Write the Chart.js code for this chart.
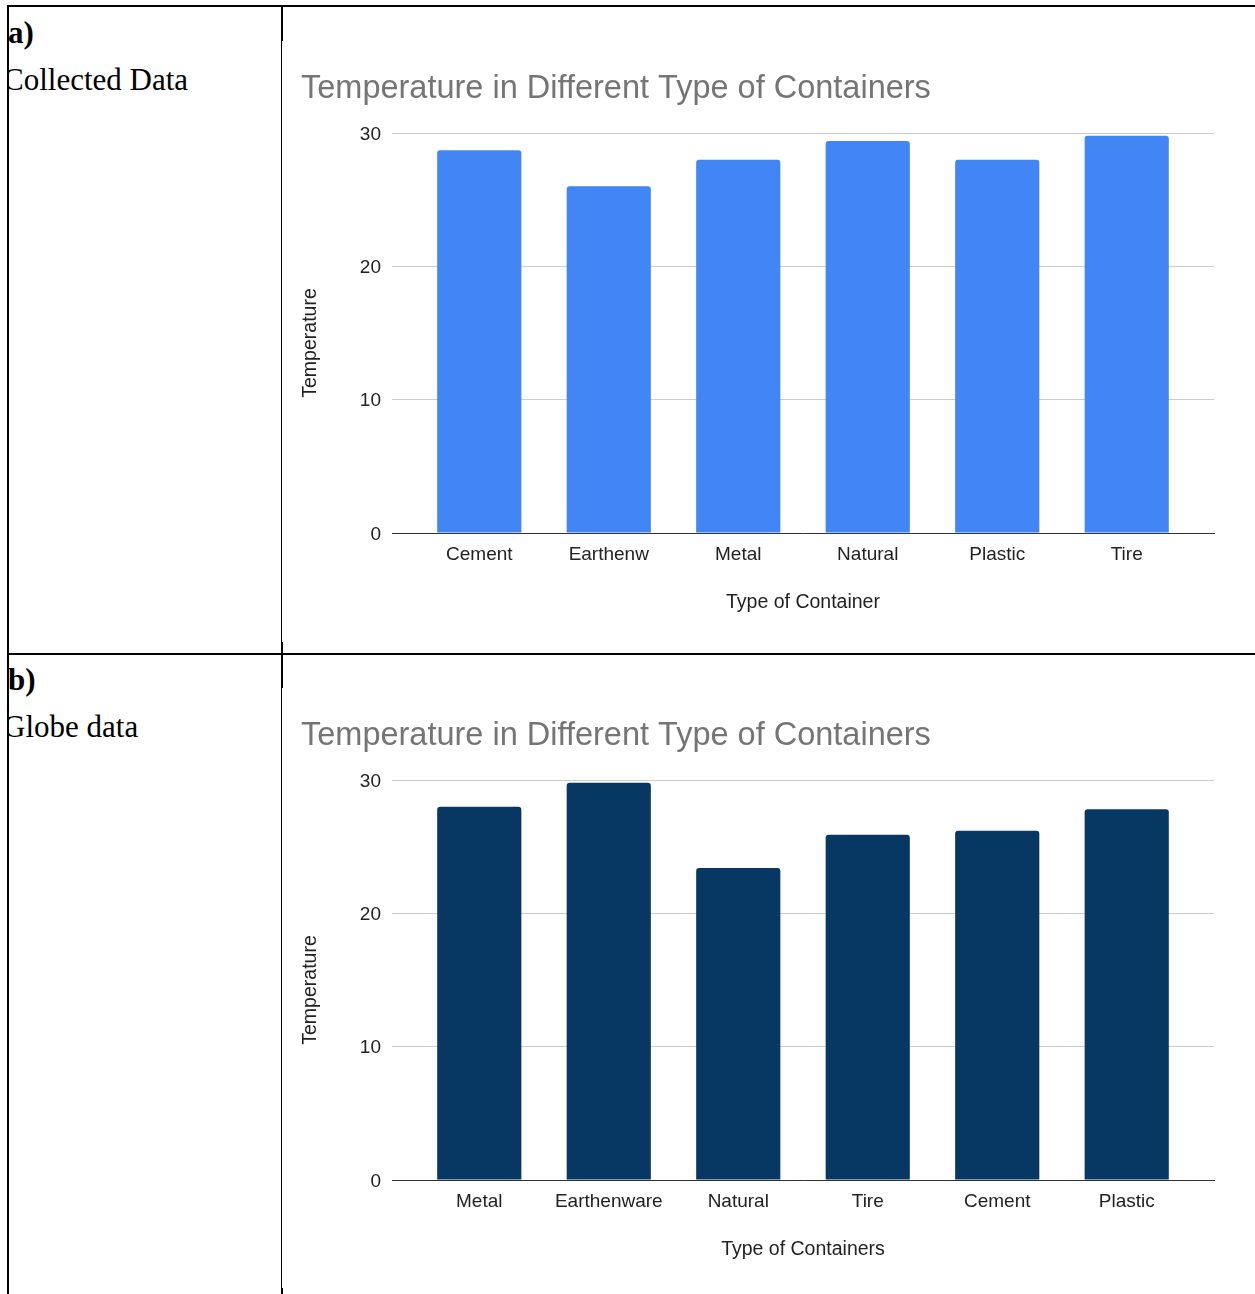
<!DOCTYPE html>
<html>
<head>
<meta charset="utf-8">
<script src="https://cdn.jsdelivr.net/npm/chart.js@4.4.1/dist/chart.umd.min.js"></script>
<style>
  html, body { margin: 0; padding: 0; background: #fff; }
  body { width: 1255px; height: 1294px; position: relative; overflow: hidden; }
  .ln { position: absolute; background: #000; }
  .cell { position: absolute; left: 9px; width: 272px; overflow: hidden; font-family: "Liberation Serif", "Times New Roman", serif; color: #000; white-space: nowrap; }
  .cell div { position: absolute; line-height: 1; }
  .tag { font-weight: bold; font-size: 31px; }
  .cap { font-size: 31px; }
  .wrap { position: absolute; left: 283px; width: 972px; height: 600px; }
</style>
</head>
<body>
<!-- table rules -->
<div class="ln" style="left:7px;top:5px;width:1248px;height:2px"></div>
<div class="ln" style="left:7px;top:5px;width:2px;height:1289px"></div>
<div class="ln" style="left:7px;top:653px;width:1248px;height:2px"></div>
<div class="ln" style="left:281px;top:5px;width:2px;height:36px"></div>
<div class="ln" style="left:281px;top:41px;width:1px;height:1253px"></div>
<div class="ln" style="left:281px;top:642px;width:2px;height:46px"></div>
<div class="ln" style="left:281px;top:1288px;width:2px;height:6px"></div>

<div class="cell" style="top:7px;height:640px">
  <div class="tag" style="left:-1px;top:10px">a)</div>
  <div class="cap" style="left:-6px;top:57px">Collected Data</div>
</div>
<div class="cell" style="top:655px;height:639px">
  <div class="tag" style="left:-1px;top:9px">b)</div>
  <div class="cap" style="left:-6px;top:56px">Globe data</div>
</div>

<div class="wrap" style="top:41px"><canvas id="chartA"></canvas></div>
<div class="wrap" style="top:688px"><canvas id="chartB"></canvas></div>

<script>
const chartTitle = "Temperature in Different Type of Containers";
const yAxisTitle = "Temperature";
const yTicks = [0, 10, 20, 30];

const collectedCategories = ["Cement", "Earthenw", "Metal", "Natural", "Plastic", "Tire"];
const collectedTemps = [28.7, 26.0, 28.0, 29.4, 28.0, 29.8];
const collectedXTitle = "Type of Container";

const globeCategories = ["Metal", "Earthenware", "Natural", "Tire", "Cement", "Plastic"];
const globeTemps = [28.0, 29.8, 23.4, 25.9, 26.2, 27.8];
const globeXTitle = "Type of Containers";

const FONT = "'Liberation Sans', Arial, Helvetica, sans-serif";

// Rotated value-axis title, centred a little below the middle of the plot
const yTitlePlugin = {
  id: 'yTitle',
  afterDraw(chart, args, opts) {
    const { ctx, chartArea } = chart;
    ctx.save();
    ctx.translate(opts.x, (chartArea.top + chartArea.bottom) / 2 + opts.shift);
    ctx.rotate(-Math.PI / 2);
    ctx.fillStyle = opts.color;
    ctx.font = opts.font;
    ctx.textAlign = 'center';
    ctx.textBaseline = 'middle';
    ctx.fillText(opts.text, 0, 0);
    ctx.restore();
  }
};

function makeChart(id, labels, values, color, xTitle) {
  const points = values.map((v, i) => ({ x: i, y: v }));
  return new Chart(document.getElementById(id), {
    type: 'bar',
    data: {
      datasets: [{
        data: points,
        backgroundColor: color,
        borderRadius: { topLeft: 3, topRight: 3, bottomLeft: 0, bottomRight: 0 },
        borderSkipped: 'start',
        categoryPercentage: 1.0,
        barPercentage: 0.65
      }]
    },
    plugins: [yTitlePlugin],
    options: {
      responsive: true,
      maintainAspectRatio: false,
      animation: false,
      events: [],
      layout: { padding: { left: 18, right: 41, top: 0, bottom: 0 } },
      plugins: {
        legend: { display: false },
        tooltip: { enabled: false },
        yTitle: { text: yAxisTitle, x: 28, shift: 10, color: '#222222',
                  font: "19.5px " + FONT },
        title: {
          display: true,
          text: chartTitle,
          align: 'start',
          color: '#757575',
          font: { family: FONT, size: 32.5, weight: 'normal', lineHeight: 1.2 },
          padding: { top: 29, bottom: 24 }
        }
      },
      scales: {
        x: {
          type: 'linear',
          offset: false,
          min: -0.674,
          max: labels.length - 1 + 0.674,
          afterBuildTicks: (s) => { s.ticks = labels.map((_, i) => ({ value: i })); },
          grid: { display: false, drawTicks: false, offset: false },
          border: { display: true, color: '#333333', width: 1 },
          ticks: { color: '#222222', padding: 10, maxRotation: 0, autoSkip: false,
                   callback: (v) => labels[v],
                   font: { family: FONT, size: 19, lineHeight: 1.2 } },
          title: { display: true, text: xTitle, color: '#222222',
                   font: { family: FONT, size: 19.5, lineHeight: 1.2 },
                   padding: { top: 0, bottom: 27 } },
          afterFit: (s) => { s.height = 108; }
        },
        y: {
          min: 0, max: 30,
          afterBuildTicks: (s) => { s.ticks = yTicks.map(v => ({ value: v })); },
          grid: { color: '#cccccc', lineWidth: 1, drawTicks: false },
          border: { display: false },
          ticks: { color: '#222222', padding: 11, labelOffset: 1.5,
                   font: { family: FONT, size: 19, lineHeight: 1.2 } },
          afterFit: (s) => { s.width = 91; }
        }
      }
    }
  });
}

makeChart('chartA', collectedCategories, collectedTemps, '#4285f4', collectedXTitle);
makeChart('chartB', globeCategories, globeTemps, '#073763', globeXTitle);
</script>
</body>
</html>
